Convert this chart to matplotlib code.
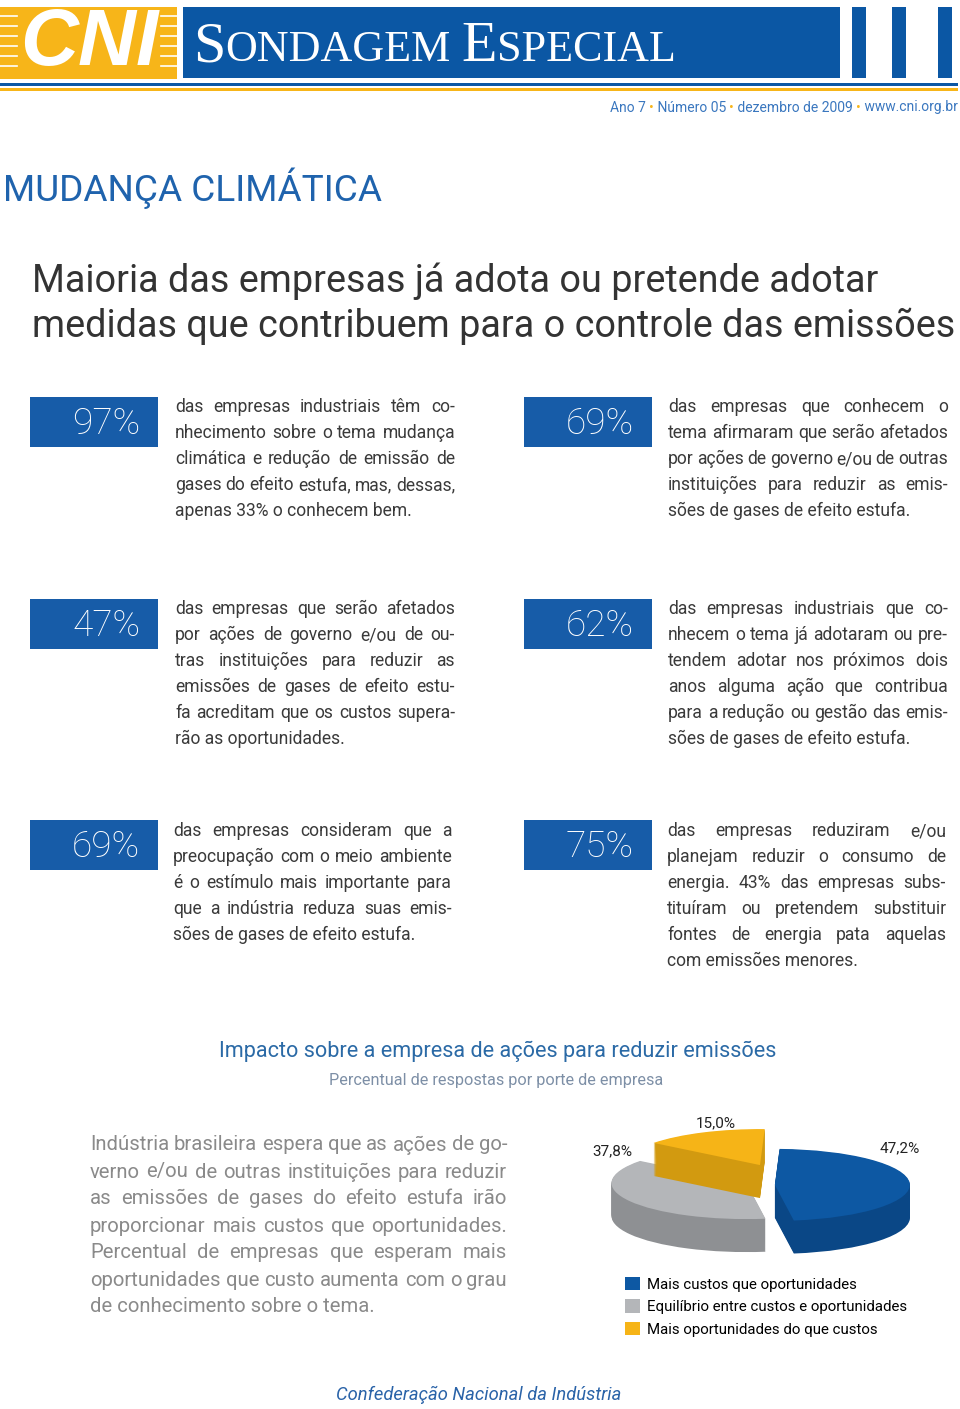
import matplotlib
matplotlib.use('Agg')
import matplotlib.pyplot as plt
from matplotlib.patches import Rectangle
import numpy as np

# ---------------- data ----------------
stat_values = ["97%", "69%", "47%", "62%", "69%", "75%"]
stat_texts = [
    ["das empresas industriais têm co-", "nhecimento sobre o tema mudança",
     "climática e redução de emissão de", "gases do efeito estufa, mas, dessas,",
     "apenas 33% o conhecem bem."],
    ["das empresas que conhecem o", "tema afirmaram que serão afetados",
     "por ações de governo e/ou de outras", "instituições para reduzir as emis-",
     "sões de gases de efeito estufa."],
    ["das empresas que serão afetados", "por ações de governo e/ou de ou-",
     "tras instituições para reduzir as", "emissões de gases de efeito estu-",
     "fa acreditam que os custos supera-", "rão as oportunidades."],
    ["das empresas industriais que co-", "nhecem o tema já adotaram ou pre-",
     "tendem adotar nos próximos dois", "anos alguma ação que contribua",
     "para a redução ou gestão das emis-", "sões de gases de efeito estufa."],
    ["das empresas consideram que a", "preocupação com o meio ambiente",
     "é o estímulo mais importante para", "que a indústria reduza suas emis-",
     "sões de gases de efeito estufa."],
    ["das empresas reduziram e/ou", "planejam reduzir o consumo de",
     "energia. 43% das empresas subs-", "tituíram ou pretendem substituir",
     "fontes de energia pata aquelas", "com emissões menores."],
]
side_text = ["Indústria brasileira espera que as ações de go-",
             "verno e/ou de outras instituições para reduzir",
             "as emissões de gases do efeito estufa irão",
             "proporcionar mais custos que oportunidades.",
             "Percentual de empresas que esperam mais",
             "oportunidades que custo aumenta com o grau",
             "de conhecimento sobre o tema."]
pie_labels = ["Mais custos que oportunidades",
              "Equilíbrio entre custos e oportunidades",
              "Mais oportunidades do que custos"]
pie_values = [47.2, 37.8, 15.0]

# ---------------- style ----------------
W, H = 960, 1409
BLUE = '#0b57a4'
BOX = '#175ca8'
YEL = '#f7b519'
BODY = ['Roboto', 'DejaVu Sans']
pie_top = ['#0d58a3', '#b4b6b9', '#f6b417']
pie_side = ['#0a4786', '#8e9093', '#d29a10']

fig = plt.figure(figsize=(W / 100, H / 100), dpi=100)
fig.patch.set_facecolor('white')
ax = fig.add_axes([0, 0, 1, 1])
ax.set_xlim(0, W)
ax.set_ylim(H, 0)
ax.axis('off')
R = fig.canvas.get_renderer()


def width(s, **kw):
    t = ax.text(0, 0, s, **kw)
    w = t.get_window_extent(R).width
    t.remove()
    return w


def fit(s, target, **kw):
    return 10 * target / width(s, fontsize=10, **kw)


def justify(lines, x0, x1, y0, dy, size, **kw):
    for i, line in enumerate(lines):
        y = y0 + i * dy
        words = line.split(' ')
        if i == len(lines) - 1:
            ax.text(x0, y, line, fontsize=size, ha='left', va='center_baseline', **kw)
            continue
        ws = [width(w_, fontsize=size, **kw) for w_ in words]
        gap = (x1 - x0 - sum(ws)) / (len(words) - 1)
        x = x0
        for w_, ww in zip(words, ws):
            ax.text(x, y, w_, fontsize=size, ha='left', va='center_baseline', **kw)
            x += ww + gap


# ---------------- header ----------------
ax.add_patch(Rectangle((0, 7), 177, 72, color=YEL, lw=0))
for yy in [16, 26, 36, 46, 56, 66]:
    ax.plot([0, 17], [yy, yy], color='white', lw=1.2)
    ax.plot([161, 177], [yy, yy], color='white', lw=1.2)
cni_kw = dict(family=['Liberation Sans', 'DejaVu Sans'], fontweight='bold', style='italic')
ax.text(89, 44, 'CNI', fontsize=fit('CNI', 138, **cni_kw), color='white',
        ha='center', va='center', **cni_kw)
ax.add_patch(Rectangle((183, 7), 657, 71, color=BLUE, lw=0))
for bx in [852, 892, 938]:
    ax.add_patch(Rectangle((bx, 7), 14, 71, color=BLUE, lw=0))
ax.add_patch(Rectangle((0, 82.5), 958, 3, color=BLUE, lw=0))
ax.add_patch(Rectangle((0, 88), 958, 3, color=YEL, lw=0))

serif = dict(family=['Liberation Serif', 'DejaVu Serif'])
pieces = [('S', 1.0), ('ONDAGEM', 0.76), (' ', 0.76), ('E', 1.0), ('SPECIAL', 0.76)]
tot = sum(width(p, fontsize=10 * f, **serif) for p, f in pieces)
sc = 479 / tot
x = 193
for p, f in pieces:
    ax.text(x, 61, p, fontsize=10 * f * sc, color='white', ha='left', va='baseline', **serif)
    x += width(p, fontsize=10 * f * sc, **serif)

info = [('Ano 7 ', BLUE), ('•', YEL), (' Número 05 ', BLUE), ('•', YEL),
        (' dezembro de 2009 ', BLUE), ('•', YEL), (' www.cni.org.br', BLUE)]
info_kw = dict(family=BODY)
tot = sum(width(p, fontsize=10, **info_kw) for p, c in info)
isz = 10 * 347 / tot
x = 958
for p, c in reversed(info):
    ax.text(x, 106, p, fontsize=isz, color='#3a77bf' if c == BLUE else c,
            ha='right', va='center_baseline', **info_kw)
    x -= width(p, fontsize=isz, **info_kw)

# ---------------- titles ----------------
lt = dict(family=BODY, fontweight='light')
ax.text(3, 184, 'MUDANÇA CLIMÁTICA', fontsize=fit('MUDANÇA CLIMÁTICA', 377, family=BODY),
        color='#1f63ad', ha='left', va='center_baseline', family=BODY)
t2 = 'medidas que contribuem para o controle das emissões'
tsz = fit(t2, 923, family=BODY)
ax.text(32, 277, 'Maioria das empresas já adota ou pretende adotar', fontsize=tsz,
        color='#333333', ha='left', va='center_baseline', family=BODY)
ax.text(32, 322, t2, fontsize=tsz, color='#333333', ha='left', va='center_baseline', family=BODY)

# ---------------- stat blocks ----------------
psz = 0.97 * fit('apenas 33% o conhecem bem.', 246, family=BODY)
layout = [  # box x, box y, text x0, text x1, first line y
    (30, 397, 175, 455, 405),
    (524, 397, 668, 948, 405),
    (30, 599, 175, 455, 607),
    (524, 599, 668, 948, 607),
    (30, 820, 173, 452, 829),
    (524, 820, 667, 946, 829),
]
nsz = fit('97%', 68, **lt)
for (bx, by, x0, x1, y0), val, lines in zip(layout, stat_values, stat_texts):
    ax.add_patch(Rectangle((bx, by), 128, 50, color=BOX, lw=0))
    ax.text(bx + 110, by + 27, val, fontsize=nsz, color='white', ha='right',
            va='center', **lt)
    justify(lines, x0, x1, y0, 26, psz, family=BODY, color='#3a3a3a')

# ---------------- chart titles ----------------
ct = 'Impacto sobre a empresa de ações para reduzir emissões'
ax.text(498, 1049, ct, fontsize=fit(ct, 559, family=BODY), color='#2b6aa6',
        ha='center', va='center_baseline', family=BODY)
st = 'Percentual de respostas por porte de empresa'
ax.text(496, 1079, st, fontsize=fit(st, 336, family=BODY), color='#7d8fa6',
        ha='center', va='center_baseline', family=BODY)

ssz = fit('de conhecimento sobre o tema.', 286, family=BODY)
justify(side_text, 90, 507, 1143, 27, ssz, family=BODY, color='#8a8a8a')

ft = 'Confederação Nacional da Indústria'
ax.text(479, 1393, ft, fontsize=fit(ft, 284, family=BODY, style='italic'),
        color='#2a63a8', ha='center', va='center_baseline', family=BODY, style='italic')

# ---------------- 3D-like pie ----------------
px0, px1, py0, py1 = 580, 960, 1100, 1275
cx, cy, rx, ry = 760, 1182, 135, 36
pax = fig.add_axes([px0 / W, 1 - py1 / H, (px1 - px0) / W, (py1 - py0) / H])
# per-wedge displacement (data units) to pull the slices apart
offsets = [(0.11, -0.08), (-0.10, -0.03), (0.0, 0.47)]
thick = 33 / ry
legend_handles = [None] * 3
for k in [1, 0, 2]:            # draw back-to-front
    for d in list(np.linspace(thick, 0.02, 34)) + [0.0]:
        top = d == 0.0
        wedges, _ = pax.pie(pie_values, colors=pie_top if top else pie_side,
                            startangle=88, counterclock=False,
                            wedgeprops=dict(linewidth=0))
        for j, w in enumerate(wedges):
            if j != k:
                w.remove()
            else:
                w.set_center((offsets[k][0], offsets[k][1] - d))
                if top:
                    legend_handles[k] = w
pax.set_aspect('auto')
pax.set_xlim((px0 - cx) / rx, (px1 - cx) / rx)
pax.set_ylim((cy - py1) / ry, (cy - py0) / ry)
pax.axis('off')

lab_pos = [(900, 1147), (612, 1150), (716, 1122)]
for (lx, ly), v in zip(lab_pos, pie_values):
    ax.text(lx, ly, f'{v:.1f}%'.replace('.', ','), fontsize=11, color='#222222',
            ha='center', va='center_baseline', family=BODY)

fig.legend(legend_handles, pie_labels, loc='upper left',
           bbox_to_anchor=(625 / W, 1 - 1277 / H), frameon=False,
           handlelength=1.0, handleheight=1.0,
           handletextpad=0.45, labelspacing=0.5, borderpad=0, borderaxespad=0,
           prop=dict(family=BODY, size=10.8))

fig.savefig('out.png', dpi=100, facecolor='white')
